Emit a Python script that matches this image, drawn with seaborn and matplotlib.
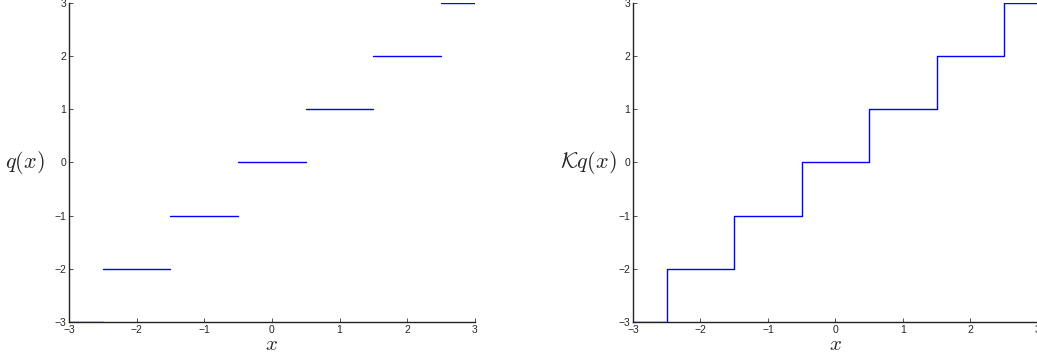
import numpy as np
import pandas as pd
import matplotlib
matplotlib.use("Agg")
import matplotlib.pyplot as plt
import seaborn as sns

# quantizer levels and the breakpoints between them
levels = [-3, -2, -1, 0, 1, 2, 3]
breaks = [-3, -2.5, -1.5, -0.5, 0.5, 1.5, 2.5, 3]
ticks = [-3, -2, -1, 0, 1, 2, 3]

# left panel: separate flat pieces
rows = []
for i, lv in enumerate(levels):
    rows.append({"seg": i, "x": breaks[i], "y": lv})
    rows.append({"seg": i, "x": breaks[i + 1], "y": lv})
df_q = pd.DataFrame(rows)

# right panel: connected staircase
df_k = pd.DataFrame({"x": breaks, "y": levels + [levels[-1]]})

sns.set_theme(style="ticks")
plt.rcParams["font.family"] = ["Liberation Sans", "DejaVu Sans"]
plt.rcParams["mathtext.fontset"] = "cm"

fig = plt.figure(figsize=(10.37, 3.6), dpi=100)
ax1 = fig.add_axes([0.0665, 0.1056, 0.3915, 0.8861])
ax2 = fig.add_axes([0.6104, 0.1056, 0.3905, 0.8861])

sns.lineplot(data=df_q, x="x", y="y", units="seg", estimator=None,
             color="blue", linewidth=1.0, ax=ax1)
sns.lineplot(data=df_k, x="x", y="y", estimator=None, sort=False,
             drawstyle="steps-post", color="blue", linewidth=1.0, ax=ax2)

for ax, lab, lp in [(ax1, r"$q(x)$", 7), (ax2, r"$\mathcal{K}q(x)$", 1.5)]:
    ax.set_xlim(-3, 3)
    ax.set_ylim(-3, 3)
    ax.set_xticks(ticks)
    ax.set_yticks(ticks)
    ax.tick_params(direction="in", length=3, width=0.6, labelsize=7.5, pad=2,
                   color="#333333")
    sns.despine(ax=ax)
    for s in ["left", "bottom"]:
        ax.spines[s].set_linewidth(1.0)
        ax.spines[s].set_color("#222222")
    ax.set_xlabel(r"$x$", fontsize=15, labelpad=0)
    ax.set_ylabel(lab, fontsize=16, rotation=0, labelpad=lp,
                  ha="right", va="center")

fig.savefig("out.png", dpi=100)
